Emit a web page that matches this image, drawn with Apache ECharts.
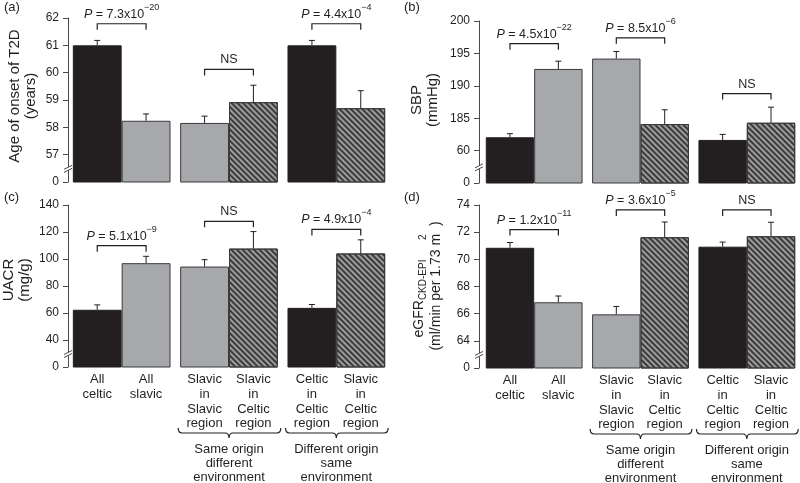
<!DOCTYPE html>
<html><head><meta charset="utf-8">
<script src="https://cdn.jsdelivr.net/npm/echarts@6/dist/echarts.min.js"></script>
<style>html,body{margin:0;padding:0;background:#fff}#c{width:800px;height:483px}</style>
</head><body><div id="c"></div>
<script>
// ---------- data ----------
const groups = ['All', 'Same origin different environment', 'Different origin same environment'];
const barLabels = ['All\nceltic', 'All\nslavic', 'Slavic\nin\nSlavic\nregion', 'Slavic\nin\nCeltic\nregion', 'Celtic\nin\nCeltic\nregion', 'Slavic\nin\nCeltic\nregion'];
const groupLabels = ['', 'Same origin\ndifferent\nenvironment', 'Different origin\nsame\nenvironment'];
const barKinds = ['celtic', 'slavic', 'slavic', 'slavicInCeltic', 'celtic', 'slavicInCeltic'];

// (a) Age of onset of T2D (years)
const ageMean = [61.0, 58.24, 58.16, 58.92, 61.0, 58.70];
const ageSE = [0.18, 0.25, 0.25, 0.62, 0.18, 0.64];
const ageTicks = ['0', '57', '58', '59', '60', '61', '62'];
const ageBracket = [61.79, 60.12, 61.79];
const ageP = [['7.3', '\u221220'], null, ['4.4', '\u22124']];

// (b) SBP (mmHg)
const sbpMean = [182.06, 192.6, 194.2, 184.1, 181.65, 184.3];
const sbpSE = [0.55, 1.2, 1.1, 2.2, 0.85, 2.4];
const sbpTicks = ['0', '60', '185', '190', '195', '200'];
const sbpBracket = [196.5, 197.4, 188.8];
const sbpP = [['4.5', '\u221222'], ['8.5', '\u22126'], null];

// (c) UACR (mg/g)
const uacrMean = [62.4, 96.9, 94.4, 107.7, 63.8, 104.1];
const uacrSE = [3.6, 5.1, 5.1, 12.6, 2.5, 10.1];
const uacrTicks = ['0', '40', '60', '80', '100', '120', '140'];
const uacrBracket = [109.9, 127.9, 121.9];
const uacrP = [['5.1', '\u22129'], null, ['4.9', '\u22124']];

// (d) eGFR CKD-EPI (ml/min per 1.73 m2)
const egfrMean = [70.85, 66.84, 65.95, 71.63, 70.93, 71.70];
const egfrSE = [0.39, 0.46, 0.58, 1.12, 0.34, 1.03];
const egfrTicks = ['0', '64', '66', '68', '70', '72', '74'];
const egfrBracket = [72.19, 73.64, 73.64];
const egfrP = [['1.2', '\u221211'], ['3.6', '\u22125'], null];

// ---------- styles / layout ----------
const FONT = 'Liberation Sans, Arial, Helvetica, sans-serif';
const INK = '#231f20';
const GAP = 0.09;
const kindStyle = {
  celtic: { color: '#231f20', borderColor: '#231f20', borderWidth: 1 },
  slavic: { color: '#a6a8ab', borderColor: '#3a3a3a', borderWidth: 1 },
  slavicInCeltic: {
    color: '#9c9c9c', borderColor: '#3a3a3a', borderWidth: 1,
    decal: { symbol: 'rect', symbolSize: 1, dashArrayX: [1, 0], dashArrayY: [1.5, 1.5], rotation: Math.PI / 4, color: '#3b3b3b' }
  }
};

const panels = [
  { mean: ageMean, se: ageSE, ticks: ageTicks, min: 56, interval: 1, bracket: ageBracket, p: ageP,
    grid: { left: 68, top: 18, width: 322, height: 164 }, offset: 0, bottomLabels: false },
  { mean: sbpMean, se: sbpSE, ticks: sbpTicks, min: 175, interval: 5, bracket: sbpBracket, p: sbpP,
    grid: { left: 481, top: 21, width: 322, height: 162 }, offset: 2, bottomLabels: false },
  { mean: uacrMean, se: uacrSE, ticks: uacrTicks, min: 20, interval: 20, bracket: uacrBracket, p: uacrP,
    grid: { left: 68, top: 205, width: 322, height: 162 }, offset: 0, bottomLabels: true },
  { mean: egfrMean, se: egfrSE, ticks: egfrTicks, min: 62, interval: 2, bracket: egfrBracket, p: egfrP,
    grid: { left: 481, top: 205, width: 322, height: 163 }, offset: 2, bottomLabels: true }
];

function barHalf(api) {
  const band = api.size([1, 0])[0];
  return band * (1 - GAP) / 2;
}

const grid = [], xAxis = [], yAxis = [], series = [];
panels.forEach((P, i) => {
  grid.push(Object.assign({ containLabel: false }, P.grid));
  xAxis.push({ type: 'category', gridIndex: i, data: groups, boundaryGap: true,
    axisLine: { show: false }, axisTick: { show: false }, axisLabel: { show: false }, splitLine: { show: false } });
  const max = P.min + P.interval * (P.ticks.length - 1);
  yAxis.push({ type: 'value', gridIndex: i, min: P.min, max: max, interval: P.interval, offset: P.offset,
    axisLine: { show: true, lineStyle: { color: '#4a4a4c', width: 1 } },
    axisTick: { show: true, length: 5, lineStyle: { color: '#4a4a4c' } },
    splitLine: { show: false },
    axisLabel: { margin: 9, color: INK, fontFamily: FONT, fontSize: 12,
      formatter: v => P.ticks[Math.round((v - P.min) / P.interval)] } });
  for (let side = 0; side < 2; side++) {
    series.push({ type: 'bar', xAxisIndex: i, yAxisIndex: i, barGap: '0%', barCategoryGap: (GAP * 100) + '%',
      clip: true, silent: true,
      data: [0, 1, 2].map(g => ({ value: P.mean[g * 2 + side], itemStyle: kindStyle[barKinds[g * 2 + side]] })) });
  }
  // error bars (upper half only)
  series.push({ type: 'custom', xAxisIndex: i, yAxisIndex: i, z: 5, silent: true,
    data: P.mean.map((m, k) => [Math.floor(k / 2), m, P.se[k], k % 2]),
    renderItem: (params, api) => {
      const g = api.value(0), m = api.value(1), s = api.value(2), side = api.value(3);
      const hb = barHalf(api);
      const base = api.coord([g, m]);
      const top = api.coord([g, m + s]);
      const x = base[0] + (side ? hb / 2 : -hb / 2);
      const st = { stroke: INK, lineWidth: 1 };
      return { type: 'group', children: [
        { type: 'line', shape: { x1: x, y1: base[1], x2: x, y2: top[1] }, style: st },
        { type: 'line', shape: { x1: x - 3, y1: top[1], x2: x + 3, y2: top[1] }, style: st }
      ] };
    } });
  // significance brackets
  series.push({ type: 'custom', xAxisIndex: i, yAxisIndex: i, z: 5, silent: true,
    data: P.bracket.map((b, g) => [g, b]),
    renderItem: (params, api) => {
      const g = api.value(0), b = api.value(1);
      const hb = barHalf(api);
      const c = api.coord([g, b]);
      const x1 = c[0] - hb / 2, x2 = c[0] + hb / 2, y = c[1];
      const pv = P.p[g];
      const txt = pv ? '{i|P}{n| = ' + pv[0] + 'x10}{s|' + pv[1] + '}' : '{n|NS}';
      return { type: 'group', children: [
        { type: 'polyline', shape: { points: [[x1, y + 6], [x1, y], [x2, y], [x2, y + 6]] },
          style: { stroke: INK, lineWidth: 1.2, fill: null } },
        { type: 'text', x: c[0], y: y - 3,
          style: { text: txt, textAlign: 'center', textVerticalAlign: 'bottom', fill: INK,
            rich: {
              i: { fontFamily: FONT, fontSize: 12.5, fontStyle: 'italic', fill: INK, verticalAlign: 'bottom', lineHeight: 18 },
              n: { fontFamily: FONT, fontSize: 12.5, fill: INK, verticalAlign: 'bottom', lineHeight: 18 },
              s: { fontFamily: FONT, fontSize: 9, fill: INK, verticalAlign: 'top', lineHeight: 18 }
            } } }
      ] };
    } });
  // axis break marks
  series.push({ type: 'custom', xAxisIndex: i, yAxisIndex: i, z: 6, silent: true,
    data: [[0, P.min + P.interval * 0.5]],
    renderItem: (params, api) => {
      const ax = params.coordSys.x - P.offset;
      const yc = api.coord([0, api.value(1)])[1];
      return { type: 'group', children: [
        { type: 'polygon', shape: { points: [[ax - 4, yc + 1], [ax + 4, yc - 3], [ax + 4, yc], [ax - 4, yc + 4]] },
          style: { fill: '#fff' } },
        { type: 'line', shape: { x1: ax - 4, y1: yc + 1, x2: ax + 4, y2: yc - 3 }, style: { stroke: '#4a4a4c', lineWidth: 1 } },
        { type: 'line', shape: { x1: ax - 4, y1: yc + 4, x2: ax + 4, y2: yc }, style: { stroke: '#4a4a4c', lineWidth: 1 } }
      ] };
    } });
  // category labels, braces and group captions
  if (P.bottomLabels) {
    series.push({ type: 'custom', xAxisIndex: i, yAxisIndex: i, z: 5, silent: true,
      data: [0, 1, 2].map(g => [g, P.min]),
      renderItem: (params, api) => {
        const g = api.value(0);
        const hb = barHalf(api);
        const c = api.coord([g, api.value(1)]);
        const children = [];
        for (let side = 0; side < 2; side++) {
          children.push({ type: 'text', x: c[0] + (side ? hb / 2 : -hb / 2), y: c[1] + 5,
            style: { text: barLabels[g * 2 + side], textAlign: 'center', textVerticalAlign: 'top',
              fontFamily: FONT, fontSize: 13, lineHeight: 14.8, fill: INK } });
        }
        if (groupLabels[g]) {
          const xl = c[0] - hb - 2, xr = c[0] + hb + 3, cx = c[0], y = c[1] + 66;
          const d = 'M' + xl + ',' + (y - 5) + ' Q' + xl + ',' + y + ' ' + (xl + 4) + ',' + y +
            ' L' + (cx - 4) + ',' + y + ' Q' + cx + ',' + y + ' ' + cx + ',' + (y + 5) +
            ' Q' + cx + ',' + y + ' ' + (cx + 4) + ',' + y +
            ' L' + (xr - 4) + ',' + y + ' Q' + xr + ',' + y + ' ' + xr + ',' + (y - 5);
          children.push({ type: 'path', shape: { pathData: d }, style: { stroke: INK, lineWidth: 1.2, fill: null } });
          children.push({ type: 'text', x: cx, y: c[1] + 75,
            style: { text: groupLabels[g], textAlign: 'center', textVerticalAlign: 'top',
              fontFamily: FONT, fontSize: 13, lineHeight: 14, fill: INK } });
        }
        return { type: 'group', children };
      } });
  }
});

const nameStyle = { fontFamily: FONT, fontSize: 15, fill: INK, textAlign: 'center', textVerticalAlign: 'middle', lineHeight: 16 };
const graphic = [
  { type: 'text', x: 4, y: 7, style: { text: '(a)', fontFamily: FONT, fontSize: 13, fill: INK, textVerticalAlign: 'middle' } },
  { type: 'text', x: 404, y: 7, style: { text: '(b)', fontFamily: FONT, fontSize: 13, fill: INK, textVerticalAlign: 'middle' } },
  { type: 'text', x: 4, y: 197, style: { text: '(c)', fontFamily: FONT, fontSize: 13, fill: INK, textVerticalAlign: 'middle' } },
  { type: 'text', x: 404, y: 197, style: { text: '(d)', fontFamily: FONT, fontSize: 13, fill: INK, textVerticalAlign: 'middle' } },
  { type: 'text', x: 23, y: 96, rotation: Math.PI / 2, style: Object.assign({ text: 'Age of onset of T2D\n(years)' }, nameStyle) },
  { type: 'text', x: 425, y: 100, rotation: Math.PI / 2, style: Object.assign({ text: 'SBP\n(mmHg)' }, nameStyle) },
  { type: 'text', x: 17, y: 280, rotation: Math.PI / 2, style: Object.assign({ text: 'UACR\n(mg/g)' }, nameStyle) },
  { type: 'text', x: 428, y: 286, rotation: Math.PI / 2, style: {
      text: '{m|eGFR}{sub|CKD-EPI}{m|     }{sup|2}\n{m|(ml/min per 1.73 m  )}',
      textAlign: 'center', textVerticalAlign: 'middle', fill: INK,
      rich: {
        m: { fontFamily: FONT, fontSize: 14, fill: INK, lineHeight: 17, verticalAlign: 'middle' },
        sub: { fontFamily: FONT, fontSize: 10, fill: INK, lineHeight: 17, verticalAlign: 'bottom' },
        sup: { fontFamily: FONT, fontSize: 10, fill: INK, lineHeight: 17, verticalAlign: 'bottom' }
      } } }
];

const chart = echarts.init(document.getElementById('c'), null, { renderer: 'canvas' });
chart.setOption({ animation: false, backgroundColor: '#fff', grid, xAxis, yAxis, series, graphic });
</script>
</body></html>
